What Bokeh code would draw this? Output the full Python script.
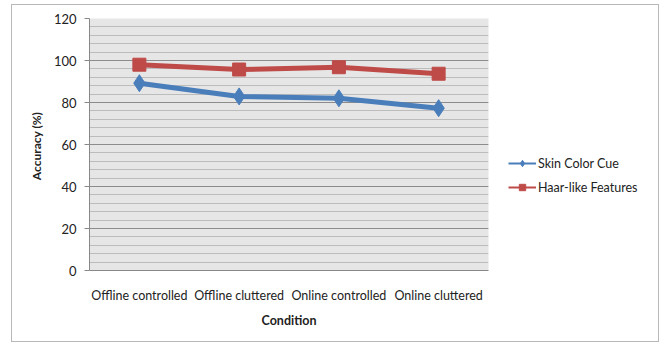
from bokeh.plotting import figure
from bokeh.layouts import row
from bokeh.models import (FactorRange, Range1d, FixedTicker, Legend, LegendItem,
                          ColumnDataSource, InlineStyleSheet)
from bokeh.embed import file_html
from bokeh.resources import INLINE

categories = ["Offline controlled", "Offline cluttered", "Online controlled", "Online cluttered"]
skin_color_cue = [89.2, 82.9, 82.0, 77.3]
haar_like = [98.0, 95.7, 96.8, 93.7]
y_ticks = [0, 20, 40, 60, 80, 100, 120]
y_minor = list(range(0, 121, 4))
series_labels = ["Skin Color Cue", "Haar-like Features"]

FONT = "Lato"
BLUE = "#4a7ebb"
RED = "#be4b48"

p = figure(width=500, height=344, x_range=FactorRange(*categories), y_range=Range1d(0, 120),
           output_backend="svg", toolbar_location=None,
           min_border_left=89, min_border_right=12, min_border_top=18, min_border_bottom=74)
p.background_fill_color = "#e6e6e6"
p.border_fill_color = "white"
p.outline_line_color = None

# grid
p.xgrid.grid_line_color = None
p.ygrid.ticker = FixedTicker(ticks=y_ticks, minor_ticks=y_minor)
p.ygrid.grid_line_color = "#8c8c8c"
p.ygrid.grid_line_width = 1
p.ygrid.minor_grid_line_color = "#bcbcbc"
p.yaxis.ticker = FixedTicker(ticks=y_ticks, minor_ticks=y_minor)

# axes
p.yaxis.axis_line_color = "#888888"
p.yaxis.major_tick_line_color = "#888888"
p.yaxis.major_tick_out = 5
p.yaxis.major_tick_in = 0
p.yaxis.minor_tick_line_color = None
p.yaxis.major_label_text_font = FONT
p.yaxis.major_label_text_font_size = "13px"
p.yaxis.major_label_text_color = "#222222"
p.yaxis.major_label_standoff = 8
p.yaxis.axis_label = "Accuracy  (%)"
p.yaxis.axis_label_text_font = FONT
p.yaxis.axis_label_text_font_size = "12px"
p.yaxis.axis_label_text_font_style = "bold"
p.yaxis.axis_label_text_color = "#222222"
p.yaxis.axis_label_standoff = 7

p.xaxis.axis_line_color = "#888888"
p.xaxis.major_tick_line_color = None
p.xaxis.minor_tick_line_color = None
p.xaxis.major_label_text_font = FONT
p.xaxis.major_label_text_font_size = "12.5px"
p.xaxis.major_label_text_color = "#222222"
p.xaxis.major_label_standoff = 11
p.xaxis.axis_label = "Condition"
p.xaxis.axis_label_text_font = FONT
p.xaxis.axis_label_text_font_size = "12.5px"
p.xaxis.axis_label_text_font_style = "bold"
p.xaxis.axis_label_text_color = "#222222"
p.xaxis.axis_label_standoff = 7

src = ColumnDataSource(dict(x=categories, skin=skin_color_cue, haar=haar_like))

p.line("x", "skin", source=src, color=BLUE, line_width=5)
p.scatter("x", "skin", source=src, marker="diamond", size=17, color=BLUE)
p.line("x", "haar", source=src, color=RED, line_width=5)
p.scatter("x", "haar", source=src, marker="square", size=13, color=RED)

# legend panel as a separate figure
q = figure(width=165, height=344, x_range=Range1d(0, 1), y_range=Range1d(0, 1),
           output_backend="svg", toolbar_location=None,
           x_axis_location=None, y_axis_location=None,
           min_border_left=0, min_border_right=0, min_border_top=0, min_border_bottom=0)
q.grid.visible = False
q.outline_line_color = None
q.background_fill_color = "white"
q.border_fill_color = "white"

nan = float("nan")
blank = ColumnDataSource(dict(x=[nan], y=[nan]))
l1 = q.line("x", "y", source=blank, color=BLUE, line_width=2)
m1 = q.scatter("x", "y", source=blank, marker="diamond", size=9, color=BLUE)
l2 = q.line("x", "y", source=blank, color=RED, line_width=2)
m2 = q.scatter("x", "y", source=blank, marker="square", size=7, color=RED)

legend = Legend(items=[LegendItem(label=series_labels[0], renderers=[l1, m1]),
                       LegendItem(label=series_labels[1], renderers=[l2, m2])],
                location=(8, 75), border_line_color=None, background_fill_alpha=0,
                label_text_font=FONT, label_text_font_size="12.5px", label_text_color="#222222",
                glyph_width=28, glyph_height=16, spacing=8, label_standoff=2,
                padding=0, margin=0)
q.add_layout(legend)

layout = row(p, q)
layout.stylesheets = [InlineStyleSheet(css=""":host { position: relative; }
:host::after { content: ""; position: absolute;
  left: 11px; top: 4px; width: 648px; height: 338px; border: 1.5px solid #b8b8b8;
  pointer-events: none; box-sizing: border-box; z-index: 10; }""")]

open("out.html", "w").write(file_html(layout, INLINE))
